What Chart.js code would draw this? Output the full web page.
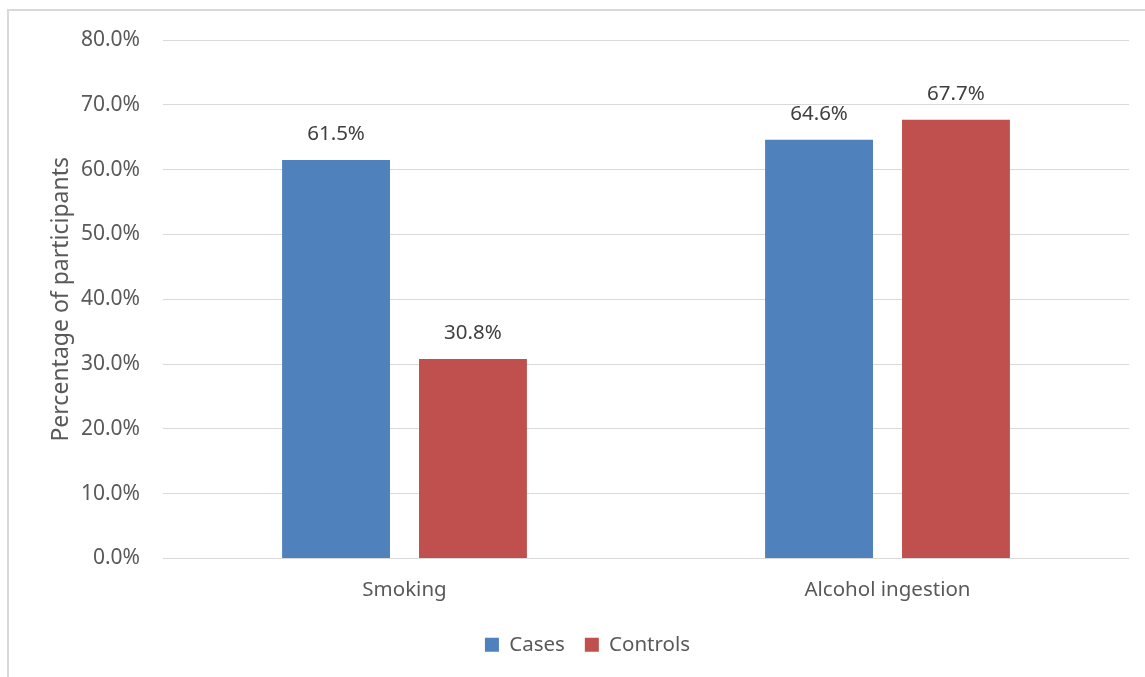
<!DOCTYPE html>
<html>
<head>
<meta charset="utf-8">
<script src="https://cdn.jsdelivr.net/npm/chart.js@4"></script>
<style>
  html, body { margin: 0; padding: 0; background: #ffffff; }
  #wrap { position: relative; width: 1145px; height: 677px; overflow: hidden; }
  #frame { position: absolute; left: 7px; top: 9px; width: 1200px; height: 700px;
           border-left: 2px solid #d9d9d9; border-top: 2px solid #d9d9d9; box-sizing: border-box; }
  canvas { position: absolute; left: 0; top: 0; }
</style>
</head>
<body>
<div id="wrap">
  <div id="frame"></div>
  <canvas id="c" width="1145" height="677"></canvas>
</div>
<script>
const categories = ["Smoking", "Alcohol ingestion"];
const seriesNames = ["Cases", "Controls"];
const casesValues = [61.5, 64.6];
const controlsValues = [30.8, 67.7];
const yTickValues = [0, 10, 20, 30, 40, 50, 60, 70, 80];
const yAxisTitle = "Percentage of participants";

const FONT = "'Noto Sans', 'Liberation Sans', sans-serif";
const TEXT = "#595959";

const dataLabels = {
  id: 'dataLabels',
  afterDatasetsDraw(chart) {
    const ctx = chart.ctx;
    ctx.save();
    ctx.font = "20.5px " + FONT;
    ctx.fillStyle = "#404040";
    ctx.textAlign = "center";
    ctx.textBaseline = "middle";
    chart.data.datasets.forEach((ds, i) => {
      const meta = chart.getDatasetMeta(i);
      meta.data.forEach((el, j) => {
        ctx.fillText(ds.data[j].toFixed(1) + "%", el.x, el.y - 26);
      });
    });
    ctx.restore();
  }
};

new Chart(document.getElementById('c'), {
  type: 'bar',
  data: {
    labels: categories,
    datasets: [
      { label: seriesNames[0], data: casesValues, backgroundColor: "#4F81BD",
        categoryPercentage: 0.567, barPercentage: 0.788 },
      { label: seriesNames[1], data: controlsValues, backgroundColor: "#C0504D",
        categoryPercentage: 0.567, barPercentage: 0.788 }
    ]
  },
  options: {
    responsive: false,
    animation: false,
    layout: { padding: { left: 46, right: 16, top: 40, bottom: 12 } },
    plugins: {
      legend: {
        position: 'bottom',
        labels: { font: { family: FONT, size: 20.5 }, color: TEXT, boxWidth: 14, boxHeight: 14, padding: 20 }
      },
      tooltip: { enabled: false }
    },
    scales: {
      x: {
        grid: { display: false, drawTicks: false },
        border: { display: false },
        ticks: { font: { family: FONT, size: 20.5 }, color: TEXT, padding: 19 },
        afterFit: (s) => { s.height = 56; }
      },
      y: {
        min: 0, max: 80,
        afterBuildTicks: (s) => { s.ticks = yTickValues.map(v => ({ value: v })); },
        grid: { color: "#d9d9d9", lineWidth: 1, drawTicks: false },
        border: { display: false },
        ticks: { font: { family: FONT, size: 21 }, color: TEXT, padding: 23,
                 callback: (v) => v.toFixed(1) + "%" },
        title: { display: true, text: yAxisTitle, font: { family: FONT, size: 23 }, color: TEXT,
                 padding: { top: 2, bottom: 0 } },
        afterFit: (s) => { s.width = 117; }
      }
    }
  },
  plugins: [dataLabels]
});
</script>
</body>
</html>
